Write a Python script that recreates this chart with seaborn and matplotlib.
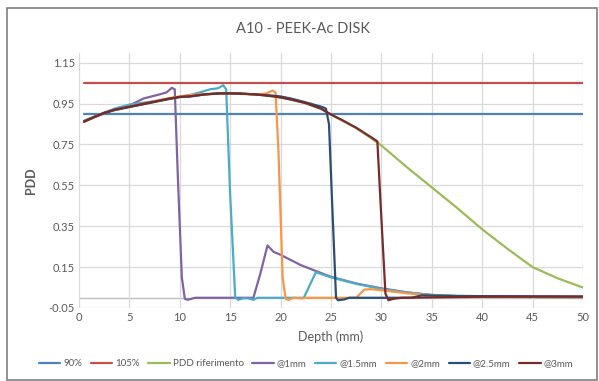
import matplotlib
matplotlib.use("Agg")
import matplotlib.pyplot as plt
import seaborn as sns
import pandas as pd
from matplotlib.patches import Rectangle

sns.set_theme(style="white")
plt.rcParams['font.family'] = ['Lato', 'DejaVu Sans']

# ---- data ----
ref_depth = [0.5, 1.5, 2.5, 3.5, 5, 6, 7.5, 9, 10, 11, 12.5, 14, 15, 16, 17.5, 19, 20, 21, 22.5, 24,
             25, 26, 27.5, 29, 30, 32.5, 35, 37.5, 40, 42.5, 45, 47.5, 50]
ref_pdd = [0.865, 0.885, 0.905, 0.92, 0.935, 0.945, 0.96, 0.975, 0.983, 0.99, 0.996, 1.0, 1.0, 0.999,
           0.995, 0.987, 0.98, 0.97, 0.952, 0.925, 0.895, 0.87, 0.83, 0.78, 0.745, 0.64, 0.54, 0.44,
           0.335, 0.24, 0.15, 0.095, 0.05]

d1_depth = [0.5, 1.5, 2.5, 3.5, 5, 6.4, 8.0, 8.7, 9.2, 9.5, 9.8, 10.2, 10.5, 10.8, 11.5, 17.3, 18.0,
            18.7, 19.3, 20, 22, 24.9, 27.5, 29.9, 32.5, 34.9, 37.5, 40, 45, 50]
d1_pdd = [0.865, 0.885, 0.905, 0.92, 0.94, 0.975, 0.995, 1.005, 1.027, 1.02, 0.6, 0.1, -0.005, -0.01,
          0.0, 0.0, 0.12, 0.256, 0.225, 0.21, 0.16, 0.104, 0.07, 0.047, 0.027, 0.014, 0.008, 0.005,
          0.004, 0.003]

d15_depth = [0.5, 1.5, 2.5, 3.5, 5, 6, 7.5, 9, 10, 11, 12, 13, 13.8, 14.3, 14.6, 15.0, 15.5, 15.8,
             16.3, 16.8, 17.3, 17.7, 22.3, 23.5, 25, 27.5, 30, 32.5, 35, 37.5, 40, 45, 50]
d15_pdd = [0.865, 0.885, 0.905, 0.925, 0.945, 0.952, 0.962, 0.975, 0.983, 0.992, 1.005, 1.02, 1.025,
           1.04, 1.02, 0.5, 0.0, -0.01, -0.002, -0.003, -0.01, 0.0, 0.0, 0.125, 0.1, 0.068, 0.043,
           0.026, 0.014, 0.008, 0.005, 0.004, 0.003]

d2_depth = [0.5, 1.5, 2.5, 3.5, 5, 6, 7.5, 9, 10, 11, 12.5, 14, 15, 16, 17, 18, 18.6, 19.2, 19.5,
            19.8, 20.2, 20.5, 20.8, 21.3, 22, 22.5, 27.5, 28.3, 29, 30, 32.5, 35, 37.5, 40, 45, 50]
d2_pdd = [0.86, 0.882, 0.903, 0.918, 0.935, 0.945, 0.962, 0.977, 0.985, 0.992, 0.997, 1.0, 1.0, 0.998,
          0.995, 0.995, 1.0, 1.014, 1.005, 0.7, 0.1, -0.005, -0.01, 0.0, -0.003, 0.0, 0.0, 0.04, 0.042,
          0.037, 0.022, 0.012, 0.007, 0.005, 0.004, 0.003]

d25_depth = [0.5, 1.5, 2.5, 3.5, 5, 6, 7.5, 9, 10, 11, 12.5, 14, 15, 16, 17.5, 19, 20, 21, 22.2, 23.3,
             24.2, 24.5, 24.8, 25.1, 25.5, 25.7, 26.3, 26.8, 33, 34, 36, 40, 45, 50]
d25_pdd = [0.862, 0.884, 0.903, 0.918, 0.933, 0.943, 0.958, 0.973, 0.982, 0.985, 0.995, 1.0, 1.0,
           0.999, 0.995, 0.99, 0.985, 0.975, 0.96, 0.945, 0.932, 0.925, 0.85, 0.48, 0.0, -0.012,
           -0.008, 0.0, 0.0, 0.012, 0.01, 0.008, 0.007, 0.006]

d3_depth = [0.5, 1.5, 2.5, 3.5, 5, 6, 7.5, 9, 10, 11, 12.5, 14, 15, 16, 17.5, 19, 20, 21, 22.5, 24,
            25, 26, 27.5, 29, 29.6, 29.9, 30.4, 30.7, 31.2, 32, 40, 50]
d3_pdd = [0.862, 0.884, 0.905, 0.92, 0.935, 0.945, 0.96, 0.975, 0.983, 0.985, 0.995, 1.0, 1.0, 0.999,
          0.995, 0.987, 0.98, 0.97, 0.952, 0.925, 0.897, 0.872, 0.832, 0.785, 0.765, 0.48, 0.02,
          -0.012, -0.005, 0.0, 0.005, 0.006]

lim_depth = [0.5, 50]
lim90 = [0.9, 0.9]
lim105 = [1.05, 1.05]

series = [
    ("90%", lim_depth, lim90, "#4F81BD"),
    ("105%", lim_depth, lim105, "#C0504D"),
    ("PDD riferimento", ref_depth, ref_pdd, "#9BBB59"),
    ("@1mm", d1_depth, d1_pdd, "#8064A2"),
    ("@1.5mm", d15_depth, d15_pdd, "#4BACC6"),
    ("@2mm", d2_depth, d2_pdd, "#F79646"),
    ("@2.5mm", d25_depth, d25_pdd, "#2C4D75"),
    ("@3mm", d3_depth, d3_pdd, "#772C2A"),
]

fig = plt.figure(figsize=(5.99, 3.81), dpi=100)
ax = fig.add_axes([79 / 599, 1 - 308 / 381, (583 - 79) / 599, (308 - 52.5) / 381])

for name, xs, ys, col in series:
    df = pd.DataFrame({"Depth": xs, "PDD": ys})
    sns.lineplot(data=df, x="Depth", y="PDD", ax=ax, color=col, linewidth=1.6,
                 label=name, sort=False, estimator=None, legend=False)

ax.set_xlim(0, 50)
ax.set_ylim(-0.05, 1.2)
ax.set_xticks(range(0, 51, 5))
yt = [-0.05, 0.15, 0.35, 0.55, 0.75, 0.95, 1.15]
ax.set_yticks(yt)
ax.set_yticklabels([f"{v:.2f}" for v in yt])
ax.grid(True, color="#d9d9d9", linewidth=0.9)
ax.set_axisbelow(True)
for s in ["top", "right", "left"]:
    ax.spines[s].set_visible(False)
ax.spines["bottom"].set_visible(False)
ax.axhline(0, color="#bfbfbf", linewidth=1.0, zorder=0.5)
ax.tick_params(axis="both", length=0, labelsize=8, colors="#595959", pad=3)

ax.set_xlabel("Depth (mm)", fontsize=9, color="#595959", labelpad=5)
ax.set_ylabel("PDD", fontsize=9, color="#595959", fontweight="bold", labelpad=8)

fig.text(303 / 599, 1 - 29 / 381, "A10 - PEEK-Ac DISK", ha="center", va="center",
         fontsize=10.5, color="#595959")

handles, labels = ax.get_legend_handles_labels()
leg = fig.legend(handles, labels, loc="center", bbox_to_anchor=(306 / 599, 1 - 364 / 381),
                 ncol=8, frameon=False, fontsize=7, handlelength=2.2, columnspacing=0.9,
                 handletextpad=0.3, labelcolor="#595959")

fig.patches.append(Rectangle((7 / 599, 1 / 381), 590 / 599, 372 / 381, transform=fig.transFigure,
                             fill=False, edgecolor="#7f7f7f", linewidth=1.2))

fig.savefig("out.png", dpi=100)
